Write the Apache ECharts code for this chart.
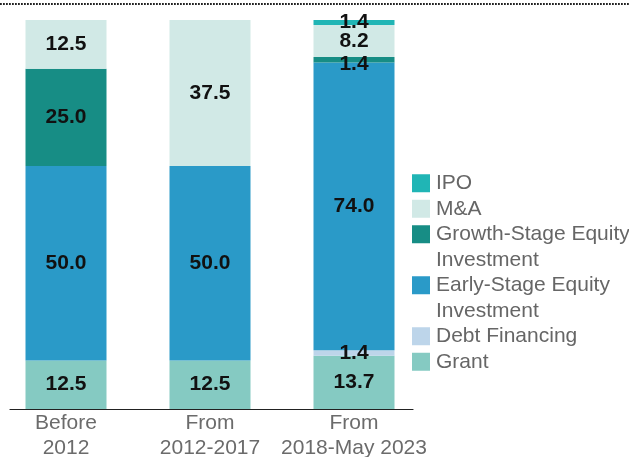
<!DOCTYPE html>
<html>
<head>
<meta charset="utf-8">
<script src="https://cdn.jsdelivr.net/npm/echarts@6/dist/echarts.min.js"></script>
<style>
  html, body { margin: 0; padding: 0; background: #fff; }
  #chart { width: 629px; height: 457px; }
</style>
</head>
<body>
<div id="chart"></div>
<script>
// Funding stages, share of deals (%) per period
const categories = ['Before\n2012', 'From\n2012-2017', 'From\n2018-May 2023'];
const grant = [12.5, 12.5, 13.7];
const debtFinancing = [0, 0, 1.4];
const earlyStage = [50.0, 50.0, 74.0];
const growthStage = [25.0, 0, 1.4];
const mergersAcquisitions = [12.5, 37.5, 8.2];
const ipo = [0, 0, 1.4];

// bottom-to-top stacking order
const seriesNames = ['Grant', 'Debt Financing', 'Early-Stage Equity\nInvestment',
  'Growth-Stage Equity\nInvestment', 'M&A', 'IPO'];
const seriesValues = [grant, debtFinancing, earlyStage, growthStage, mergersAcquisitions, ipo];
const seriesColors = ['#85cac2', '#bdd5ea', '#2a9ac8', '#178d85', '#d1e9e6', '#20b5b5'];

const FONT = '"Liberation Sans", Arial, Helvetica, sans-serif';

const chart = echarts.init(document.getElementById('chart'), null, { renderer: 'canvas' });

const series = seriesValues.map((vals, i) => ({
  name: seriesNames[i],
  type: 'bar',
  stack: 'total',
  xAxisIndex: 0,
  yAxisIndex: 0,
  barWidth: 81,
  itemStyle: { color: seriesColors[i] },
  label: {
    show: true,
    position: 'inside',
    color: '#111',
    fontFamily: FONT,
    fontWeight: 'bold',
    fontSize: 21,
    formatter: p => (p.value ? p.value.toFixed(1) : '')
  },
  data: vals.map((v, j) => {
    // thin growth slice in the last period: keep its label clear of the M&A label
    if (i === 3 && j === 2) return { value: v, label: { offset: [0, 5] } };
    return v;
  })
}));

// legend, top entry first
const legendGraphics = [];
let lineTop = 170.5;
const LINE_H = 25.5;
for (let k = seriesNames.length - 1; k >= 0; k--) {
  const lines = seriesNames[k].split('\n').length;
  legendGraphics.push({
    type: 'rect',
    left: 412,
    top: lineTop + LINE_H / 2 - 9,
    shape: { width: 18, height: 18 },
    style: { fill: seriesColors[k] }
  });
  legendGraphics.push({
    type: 'text',
    left: 436,
    top: lineTop,
    style: {
      text: seriesNames[k],
      fill: '#666',
      font: '21px ' + FONT,
      lineHeight: LINE_H
    }
  });
  lineTop += lines * LINE_H;
}

// dotted rule across the top
legendGraphics.push({
  type: 'line',
  shape: { x1: 0, y1: 4, x2: 629, y2: 4 },
  style: { stroke: '#222', lineWidth: 2, lineDash: [1.8, 1.2] }
});

chart.setOption({
  animation: false,
  backgroundColor: '#fff',
  grid: [
    { left: -6, right: 203, top: 20, bottom: 48, outerBoundsMode: 'none' },
    { left: 10, right: 216, top: 20, bottom: 48, outerBoundsMode: 'none' }
  ],
  xAxis: [
    {
      type: 'category',
      gridIndex: 0,
      data: categories,
      axisLine: { show: false },
      axisTick: { show: false },
      axisLabel: {
        margin: 2,
        color: '#6b6b6b',
        fontFamily: FONT,
        fontSize: 21,
        lineHeight: 25,
        interval: 0
      }
    },
    {
      // baseline under the bars
      type: 'value',
      gridIndex: 1,
      min: 0,
      max: 1,
      axisLine: { show: true, lineStyle: { color: '#222', width: 1.2 } },
      axisTick: { show: false },
      axisLabel: { show: false },
      splitLine: { show: false }
    }
  ],
  yAxis: [
    { type: 'value', gridIndex: 0, min: 0, max: 100, show: false },
    { type: 'value', gridIndex: 1, min: 0, max: 1, show: false }
  ],
  series: series,
  graphic: legendGraphics
});
</script>
</body>
</html>
